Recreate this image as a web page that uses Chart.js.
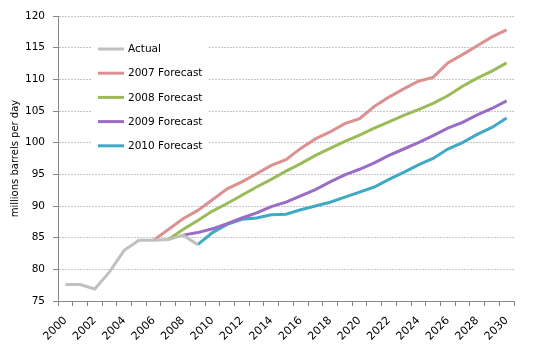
<!DOCTYPE html>
<html>
<head>
<meta charset="utf-8">
<script src="https://cdn.jsdelivr.net/npm/chart.js@4/dist/chart.umd.min.js"></script>
<style>
    html, body { margin: 0; padding: 0; background: #fff; }
    #wrap { width: 546px; height: 360px; }
</style>
</head>
<body>
<div id="wrap"><canvas id="oilChart" width="546" height="360"></canvas></div>
<script>
// Data
const years = [];
for (let y = 2000; y <= 2030; y++) years.push(String(y));

const actual = [77.6, 77.6, 76.9, 79.6, 83.0, 84.6, 84.6, 84.7, 85.4, 83.9];
const forecast2007 = [84.6, 86.3, 88.0, 89.3, 91.0, 92.7, 93.8, 95.1, 96.4, 97.3, 99.1, 100.6, 101.7,
    103.0, 103.8, 105.7, 107.2, 108.5, 109.7, 110.3, 112.6, 113.9, 115.3, 116.7, 117.8];
const forecast2008 = [84.7, 86.3, 87.7, 89.2, 90.4, 91.7, 93.0, 94.2, 95.5, 96.7, 98.0, 99.1, 100.2,
    101.2, 102.3, 103.3, 104.3, 105.2, 106.2, 107.4, 108.9, 110.2, 111.3, 112.6];
const forecast2009 = [85.4, 85.8, 86.4, 87.2, 88.1, 88.9, 89.9, 90.6, 91.6, 92.6, 93.8, 94.9, 95.8,
    96.8, 98.0, 99.0, 100.0, 101.1, 102.3, 103.2, 104.4, 105.4, 106.6];
const forecast2010 = [83.9, 85.8, 87.1, 87.9, 88.1, 88.6, 88.7, 89.4, 90.0, 90.6, 91.4, 92.2, 93.0,
    94.2, 95.3, 96.5, 97.5, 99.0, 100.0, 101.3, 102.4, 103.9];

const seriesNames = ['Actual', '2007 Forecast', '2008 Forecast', '2009 Forecast', '2010 Forecast'];
const COLORS = ['#c0c0c0', '#db918f', '#9bbb59', '#9b6cc6', '#40a9c6'];

// place a series on the year axis, starting at its first year
function fromYear(start, values) {
    const out = years.map(() => null);
    const i0 = years.indexOf(String(start));
    values.forEach((v, i) => { out[i0 + i] = v; });
    return out;
}

const seriesData = [
    fromYear(2000, actual),
    fromYear(2006, forecast2007),
    fromYear(2007, forecast2008),
    fromYear(2008, forecast2009),
    fromYear(2009, forecast2010)
];

const FONT = 'DejaVu Sans';

// legend drawn inside the plot area, on a white box
const insideLegend = {
    id: 'insideLegend',
    afterDraw(chart) {
        const ctx = chart.ctx;
        ctx.save();
        ctx.fillStyle = '#fff';
        ctx.fillRect(92, 36, 116, 120);
        ctx.font = '10.5px "' + FONT + '"';
        ctx.textAlign = 'left';
        ctx.textBaseline = 'middle';
        chart.data.datasets.forEach((ds, i) => {
            const y = 49 + i * 24.2;
            ctx.strokeStyle = ds.borderColor;
            ctx.lineWidth = 3;
            ctx.beginPath();
            ctx.moveTo(98, y);
            ctx.lineTo(124, y);
            ctx.stroke();
            ctx.fillStyle = '#000';
            ctx.fillText(ds.label, 128, y + 0.5);
        });
        ctx.restore();
    }
};

new Chart(document.getElementById('oilChart').getContext('2d'), {
    type: 'line',
    data: {
        labels: years,
        datasets: seriesData.map((d, i) => ({
            label: seriesNames[i],
            data: d,
            borderColor: COLORS[i],
            backgroundColor: COLORS[i],
            borderWidth: 3,
            pointRadius: 0,
            tension: 0,
            fill: false,
            spanGaps: false
        }))
    },
    options: {
        responsive: false,
        animation: false,
        layout: { padding: { left: 9, right: 32, top: 16, bottom: 0 } },
        plugins: {
            legend: { display: false },
            tooltip: { enabled: false }
        },
        scales: {
            x: {
                type: 'category',
                offset: true,
                afterFit: s => { s.height = 59; },
                grid: {
                    offset: true,
                    drawOnChartArea: false,
                    drawTicks: true,
                    tickLength: 5,
                    tickColor: '#868686'
                },
                border: { color: '#868686' },
                ticks: {
                    autoSkip: false,
                    maxRotation: 45,
                    minRotation: 45,
                    padding: 8,
                    color: '#000',
                    font: { family: FONT, size: 11 },
                    callback: function(val, idx) {
                        return idx % 2 === 0 ? this.getLabelForValue(val) : '';
                    }
                }
            },
            y: {
                min: 75,
                max: 120,
                afterFit: s => { s.width = 49; },
                grid: {
                    color: '#c6c6c6',
                    lineWidth: 1,
                    tickLength: 5,
                    tickColor: '#868686'
                },
                border: { color: '#868686', dash: [2, 1] },
                ticks: {
                    stepSize: 5,
                    padding: 8,
                    color: '#000',
                    font: { family: FONT, size: 10.5 }
                },
                title: {
                    display: true,
                    text: 'millions barrels per day',
                    color: '#000',
                    padding: { top: 0, bottom: 2 },
                    font: { family: FONT, size: 10 }
                }
            }
        }
    },
    plugins: [insideLegend]
});
</script>
</body>
</html>
